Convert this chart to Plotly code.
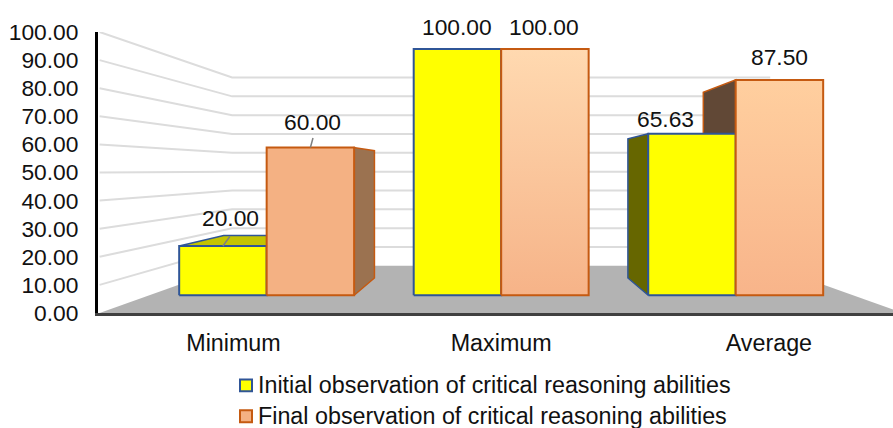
import plotly.graph_objects as go

categories = ["Minimum", "Maximum", "Average"]
initial_values = [20.00, 100.00, 65.63]
final_values = [60.00, 100.00, 87.50]
initial_name = "Initial observation of critical reasoning abilities"
final_name = "Final observation of critical reasoning abilities"
y_ticks = [0, 10, 20, 30, 40, 50, 60, 70, 80, 90, 100]

# perspective set-up (depth scale toward a vanishing point)
W, H = 893, 428
L, T, B = 98.0, 32, 313.5
VP_X, VP_V = 1.0, 50.9
S_FRONT, S_BACK, S_WALL = 0.876, 0.755, 0.67
HALF = 0.373
X_MIN, X_MAX = -0.506, 2.4636


def proj(x, v, s):
    return VP_X + (x - VP_X) * s, VP_V + (v - VP_V) * s


fig = go.Figure()


def poly(points, fill, line=None, width=2, gradient=None):
    xs = [p[0] for p in points] + [points[0][0]]
    ys = [p[1] for p in points] + [points[0][1]]
    kw = dict(fillgradient=gradient) if gradient else dict(fillcolor=fill)
    fig.add_trace(go.Scatter(x=xs, y=ys, mode="lines", fill="toself", showlegend=False,
                             hoverinfo="skip",
                             line=dict(color=line or fill, width=width if line else 0), **kw))


# back wall gridlines
for t in y_ticks[1:]:
    a = proj(-0.5, t, 1.0)
    b = proj(-0.5, t, S_WALL)
    c = proj(2.5, t, S_WALL)
    fig.add_trace(go.Scatter(x=[a[0], b[0], c[0]], y=[a[1], b[1], c[1]], mode="lines",
                             showlegend=False, hoverinfo="skip",
                             line=dict(color="#DCDCDC", width=2)))

# floor
poly([proj(-0.5, 0, 1.0), proj(2.5, 0, 1.0), proj(2.5, 0, S_WALL), proj(-0.5, 0, S_WALL)], "#B3B3B3")

series = [
    dict(name=initial_name, values=initial_values, x0=-HALF, x1=0.0, edge="#2F5597",
         top="#C4C400", side="#666600",
         fronts=[("#FFFF00", "#FFFF00"), ("#FFFF00", "#FFFF00"), ("#FFFF00", "#FFFF00")]),
    dict(name=final_name, values=final_values, x0=0.0, x1=HALF, edge="#C55A11",
         top="#C4C400", side="#9B7250",
         fronts=[("#F4B183", "#F4B183"), ("#F6B388", "#FFD9B0"), ("#F8B48A", "#FFCF9F")]),
]

for i in range(len(categories)):
    # hidden faces first
    for k, sr in enumerate(series):
        v = sr["values"][i]
        xa, xb = i + sr["x0"], i + sr["x1"]
        side = sr["side"]
        if i == 2 and k == 1:
            side = "#614836"
        if xb < VP_X - 1e-6:
            poly([proj(xb, 0, S_FRONT), proj(xb, v, S_FRONT), proj(xb, v, S_BACK), proj(xb, 0, S_BACK)],
                 side, sr["edge"], 1.5)
        if xa > VP_X + 1e-6:
            poly([proj(xa, 0, S_FRONT), proj(xa, v, S_FRONT), proj(xa, v, S_BACK), proj(xa, 0, S_BACK)],
                 side, sr["edge"], 1.5)
        if v < VP_V:
            poly([proj(xa, v, S_FRONT), proj(xb, v, S_FRONT), proj(xb, v, S_BACK), proj(xa, v, S_BACK)],
                 sr["top"], sr["edge"], 1.5)
    # front faces
    for sr in series:
        v = sr["values"][i]
        xa, xb = i + sr["x0"], i + sr["x1"]
        c1, c2 = sr["fronts"][i]
        grad = None
        if c1 != c2:
            grad = dict(type="vertical", colorscale=[[0, c1], [1, c2]])
        poly([proj(xa, 0, S_FRONT), proj(xb, 0, S_FRONT), proj(xb, v, S_FRONT), proj(xa, v, S_FRONT)],
             c1, sr["edge"], 2, grad)

FONT = dict(family="Liberation Sans, Arial, sans-serif", color="#111111", size=22.8)
BIG = dict(family="Liberation Sans, Arial, sans-serif", color="#111111", size=23.3)

# data labels, offset in pixels from the bar's top centre
offsets = [[(8, 28), (0, 22), (-26, 15)], [(2, 26), (-1, 22), (0, 23)]]
for k, sr in enumerate(series):
    for i, v in enumerate(sr["values"]):
        x, y = proj(i + (sr["x0"] + sr["x1"]) / 2, v, S_FRONT)
        dx, dy = offsets[k][i]
        fig.add_annotation(x=x, y=y, text=f"{v:.2f}", showarrow=False, xshift=dx, yshift=dy, font=FONT)

# leader lines
for sr, i in [(series[0], 0), (series[1], 0)]:
    v = sr["values"][i]
    x, y = proj(i + (sr["x0"] + sr["x1"]) / 2, v, S_FRONT)
    fig.add_annotation(x=x, y=y, ax=8 if sr is series[0] else 3, ay=-11, showarrow=True, arrowhead=0,
                       arrowwidth=1.5, arrowcolor="#7F7F7F", text="", axref="pixel", ayref="pixel")


def paper_x(px):
    return (px - L) / (W - L)


def paper_y(py):
    return (B - py) / (B - T)


# legend
for name, edge, fill, yc in [(initial_name, "#2F5597", "#FFFF00", 386),
                             (final_name, "#C55A11", "#F4B183", 417)]:
    fig.add_shape(type="rect", xref="paper", yref="paper", x0=paper_x(240), x1=paper_x(252),
                  y0=paper_y(yc + 6), y1=paper_y(yc - 6), fillcolor=fill, line=dict(color=edge, width=2))
    fig.add_annotation(xref="paper", yref="paper", x=paper_x(255.5), y=paper_y(yc), text=name,
                       showarrow=False, xanchor="left", yanchor="middle", font=BIG)

fig.update_layout(
    width=W, height=H, margin=dict(l=L, r=0, t=T, b=H - B, autoexpand=False),
    paper_bgcolor="white", plot_bgcolor="white", showlegend=False,
    xaxis=dict(range=[X_MIN, X_MAX], tickmode="array", tickvals=[0, 1, 2], ticktext=categories,
               showgrid=False, zeroline=False, showline=True, linecolor="#404040", linewidth=3,
               ticks="", tickfont=BIG, ticklabelstandoff=7),
    yaxis=dict(range=[0, 100], tickmode="array", tickvals=y_ticks, tickformat=".2f",
               showgrid=False, zeroline=False, showline=True, linecolor="#000000", linewidth=3,
               ticks="", tickfont=FONT, ticklabelstandoff=12),
)

fig.write_html("out.html", config=dict(displayModeBar=False),
               post_script="document.body.style.margin='0';")
